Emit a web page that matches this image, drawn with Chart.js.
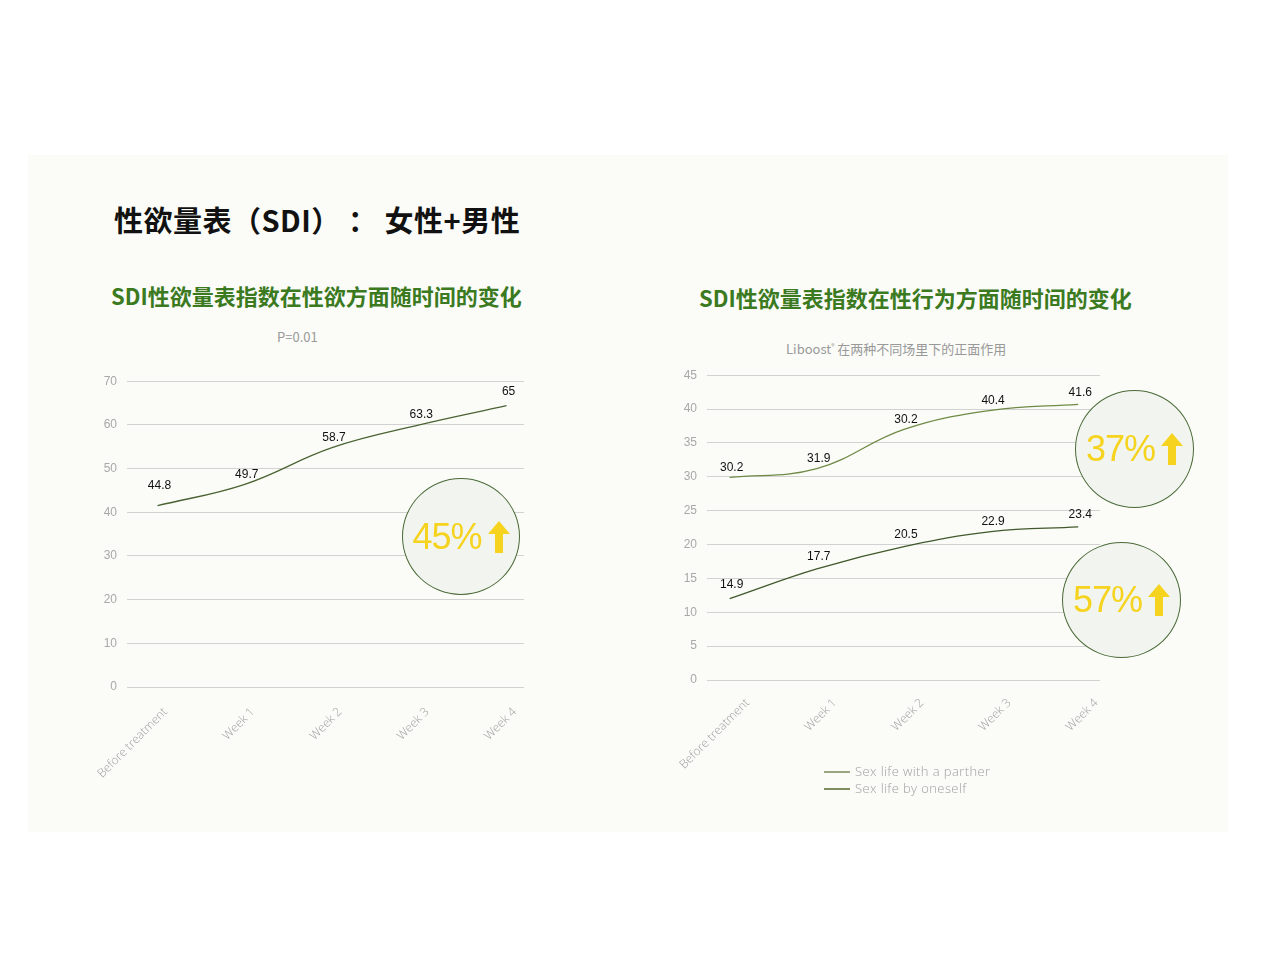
<!DOCTYPE html>
<html>
<head>
<meta charset="utf-8">
<script src="https://cdn.jsdelivr.net/npm/chart.js@4"></script>
<style>
  html,body{margin:0;padding:0;background:#ffffff;}
  body{width:1280px;height:960px;position:relative;overflow:hidden;font-family:"Liberation Sans",Arial,sans-serif;}
  .panel{position:absolute;left:28px;top:155px;width:1200px;height:677px;background:#fbfcf8;}
  .t{position:absolute;white-space:nowrap;}
  .main{left:114px;top:199px;font-family:"Noto Sans CJK SC",sans-serif;font-weight:700;font-size:29px;color:#111;line-height:40px;letter-spacing:0.5px;}
  .sub{font-family:"Noto Sans CJK SC",sans-serif;font-weight:700;font-size:22px;color:#3b7a1f;line-height:30px;}
  .note{font-size:13px;color:#999;line-height:16px;font-family:"Noto Sans CJK SC","Liberation Sans",sans-serif;}
  .cv{position:absolute;}
  .circle{position:absolute;border-radius:50%;border:1px solid #4b6a37;background:#f1f4ef;box-sizing:border-box;display:flex;align-items:center;justify-content:center;}
  .circle span{font-family:"Liberation Sans",Arial,sans-serif;font-size:36px;color:#f5d31e;letter-spacing:-1px;margin-right:6px;}
  .legend{position:absolute;left:824px;top:763px;font-size:13px;color:#a0a0a0;line-height:17px;font-family:"Open Sans","DejaVu Sans",sans-serif;font-weight:300;letter-spacing:0.4px;}
  .legend div{display:flex;align-items:center;}
  .legend i{display:inline-block;width:26px;height:2px;margin-right:5px;}
</style>
</head>
<body>
<div class="panel"></div>
<div class="t main">性欲量表（SDI） ： 女性+男性</div>
<div class="t sub" style="left:111px;top:280px;">SDI性欲量表指数在性欲方面随时间的变化</div>
<div class="t sub" style="left:699px;top:282px;">SDI性欲量表指数在性行为方面随时间的变化</div>
<div class="t note" style="left:277px;top:329px;">P=0.01</div>
<div class="t note" style="left:786px;top:338px;">Liboost<sup style="font-size:7px">®</sup> 在两种不同场里下的正面作用</div>

<canvas id="c1" class="cv" style="left:60px;top:364px;" width="480" height="440"></canvas>
<canvas id="c2" class="cv" style="left:640px;top:358px;" width="480" height="440"></canvas>

<div class="circle" style="left:402px;top:478px;width:118px;height:117px;"><span>45%</span><svg width="22" height="32" viewBox="0 0 22 32"><polygon points="11,0 22,13 15,13 15,32 7,32 7,13 0,13" fill="#f5d31e"/></svg></div>
<div class="circle" style="left:1075px;top:390px;width:119px;height:118px;"><span>37%</span><svg width="22" height="32" viewBox="0 0 22 32"><polygon points="11,0 22,13 15,13 15,32 7,32 7,13 0,13" fill="#f5d31e"/></svg></div>
<div class="circle" style="left:1062px;top:542px;width:119px;height:116px;"><span>57%</span><svg width="22" height="32" viewBox="0 0 22 32"><polygon points="11,0 22,13 15,13 15,32 7,32 7,13 0,13" fill="#f5d31e"/></svg></div>

<div class="legend" id="legend"></div>

<script>
// ---- data ----
const leftCategories = ["Before treatment", "Week 1", "Week 2", "Week 3", "Week 4"];
const leftValues = [41.5, 46.4, 54.8, 60.0, 64.4];          // plotted line positions
const leftValueLabels = ["44.8", "49.7", "58.7", "63.3", "65"];
const leftYTicks = [0, 10, 20, 30, 40, 50, 60, 70];

const rightCategories = ["Before treatment", "Week 1", "Week 2", "Week 3", "Week 4"];
const partnerName = "Sex life with a parther";
const partnerValues = [29.9, 31.2, 37.0, 39.8, 40.7];
const partnerLabels = ["30.2", "31.9", "30.2", "40.4", "41.6"];
const oneselfName = "Sex life by oneself";
const oneselfValues = [12.0, 16.4, 19.7, 21.9, 22.6];
const oneselfLabels = ["14.9", "17.7", "20.5", "22.9", "23.4"];
const rightYTicks = [0, 5, 10, 15, 20, 25, 30, 35, 40, 45];

const colPartner = "#6f8a45";
const colOneself = "#41592c";

// ---- helpers ----
const toPts = vals => vals.map((v, i) => ({x: i, y: v}));

const valueLabelPlugin = {
  id: 'valueLabels',
  afterDatasetsDraw(chart) {
    const ctx = chart.ctx;
    ctx.save();
    ctx.font = '12px "Liberation Sans", Arial, sans-serif';
    ctx.fillStyle = '#111';
    ctx.textAlign = 'center';
    ctx.textBaseline = 'bottom';
    chart.data.datasets.forEach((ds, di) => {
      const meta = chart.getDatasetMeta(di);
      meta.data.forEach((pt, i) => {
        const off = ds.labelOffsets ? ds.labelOffsets[i] : 0;
        ctx.fillText(ds.valueLabels[i], pt.x + 2, pt.y - 4 - off);
      });
    });
    ctx.restore();
  }
};

function makeOptions(cats, yTicks, xMin, xMax, yAxisWidth, xAxisHeight, pad, labelOffset, tickPad) {
  return {
    responsive: false,
    animation: false,
    layout: {padding: pad},
    plugins: {legend: {display: false}, tooltip: {enabled: false}},
    elements: {point: {radius: 0}},
    scales: {
      x: {
        type: 'linear',
        min: xMin, max: xMax,
        grid: {display: false, drawTicks: false},
        border: {display: false},
        afterBuildTicks: s => { s.ticks = cats.map((_, i) => ({value: i})); },
        afterFit: s => { s.height = xAxisHeight; },
        ticks: {
          autoSkip: false,
          minRotation: 45, maxRotation: 45,
          padding: tickPad,
          labelOffset: labelOffset,
          color: '#a0a0a0',
          font: {family: '"Open Sans", "DejaVu Sans", sans-serif', size: 12, weight: 300},
          callback: v => cats[v] !== undefined ? cats[v] : ''
        }
      },
      y: {
        min: yTicks[0], max: yTicks[yTicks.length - 1],
        afterBuildTicks: s => { s.ticks = yTicks.map(v => ({value: v})); },
        afterFit: s => { s.width = yAxisWidth; },
        grid: {color: '#d2d2d2', lineWidth: 1, drawTicks: false},
        border: {display: false},
        ticks: {
          padding: 10,
          color: '#a8a8a8',
          font: {family: '"Liberation Sans", Arial, sans-serif', size: 12}
        }
      }
    }
  };
}

new Chart(document.getElementById('c1'), {
  type: 'line',
  data: {
    datasets: [{
      label: 'SDI',
      data: toPts(leftValues),
      valueLabels: leftValueLabels,
      labelOffsets: [10, 0, 0, 0, 4],
      borderColor: '#4b6332',
      borderWidth: 1.3,
      tension: 0.4,
      fill: false
    }]
  },
  options: makeOptions(leftCategories, leftYTicks, -0.35, 4.2, 67, 117, {left: 0, right: 16, top: 0, bottom: 0}, 8, 18),
  plugins: [valueLabelPlugin]
});

new Chart(document.getElementById('c2'), {
  type: 'line',
  data: {
    datasets: [{
      label: partnerName,
      data: toPts(partnerValues),
      valueLabels: partnerLabels,
      labelOffsets: [0, 0, 0, 0, 2],
      borderColor: colPartner,
      borderWidth: 1.3,
      tension: 0.4,
      fill: false
    }, {
      label: oneselfName,
      data: toPts(oneselfValues),
      valueLabels: oneselfLabels,
      labelOffsets: [4, 2, 2, 0, 2],
      borderColor: colOneself,
      borderWidth: 1.3,
      tension: 0.4,
      fill: false
    }]
  },
  options: makeOptions(rightCategories, rightYTicks, -0.26, 4.25, 67, 118, {left: 0, right: 20, top: 0, bottom: 0}, 18, 16),
  plugins: [valueLabelPlugin]
});

// legend (HTML) built from the series names
const legend = document.getElementById('legend');
[[partnerName, '#9aa680'], [oneselfName, '#7d8e5c']].forEach(([n, c]) => {
  const d = document.createElement('div');
  d.innerHTML = '<i style="background:' + c + '"></i>' + n;
  legend.appendChild(d);
});
</script>
</body>
</html>
